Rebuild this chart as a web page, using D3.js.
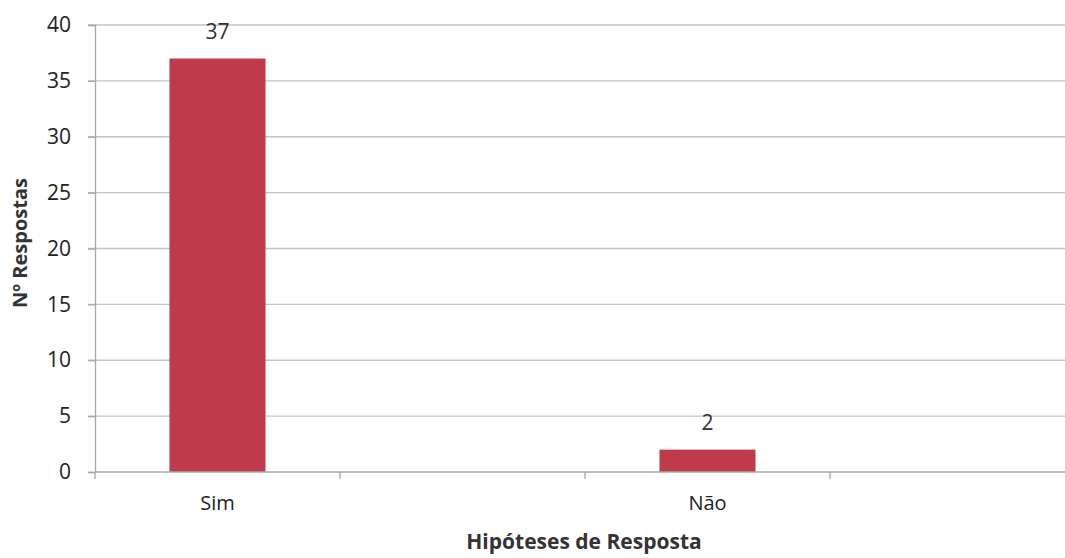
<!DOCTYPE html>
<html><head><meta charset="utf-8">
<script src="https://cdn.jsdelivr.net/npm/d3@7"></script>
<style>body{margin:0;background:#fff}text{font-family:"Open Sans",sans-serif}</style>
</head><body><svg id="c" width="1065" height="558"></svg>
<script>
const categories = ["Sim", "", "Não", " "];
const values = [37, null, 2, null];
const yTicks = [0, 5, 10, 15, 20, 25, 30, 35, 40];
const yTitle = "Nº Respostas";
const xTitle = "Hipóteses de Resposta";

const FONT = "'Open Sans',sans-serif";
const svg = d3.select("#c");
const x = d3.scaleBand().domain(categories).range([95, 1075]).paddingInner(0.608).paddingOuter(0.304);
const y = d3.scaleLinear().domain([0, 40]).range([472, 25]);
const barColor = "#bf3a4a";

// gridlines
svg.append("g").selectAll("line").data(yTicks.filter(d => d > 0)).join("line")
  .attr("x1", 88).attr("x2", 1075).attr("y1", d => y(d)).attr("y2", d => y(d))
  .attr("stroke", "#c4c4c4").attr("stroke-width", 1.3);

// bars
const data = categories.map((c, i) => ({c, v: values[i]})).filter(d => d.v != null);
svg.append("g").selectAll("rect").data(data).join("rect")
  .attr("x", d => x(d.c)).attr("width", x.bandwidth())
  .attr("y", d => y(d.v)).attr("height", d => y(0) - y(d.v))
  .attr("fill", barColor);

// value labels
svg.append("g").selectAll("text").data(data).join("text")
  .attr("x", d => x(d.c) + x.bandwidth() / 2).attr("y", d => y(d.v) - 20)
  .attr("text-anchor", "middle").attr("font-size", 21).attr("fill", "#333")
  .text(d => d.v);

// y axis
const yAxis = svg.append("g").attr("transform", "translate(95,0)")
  .call(d3.axisLeft(y).tickValues(yTicks).tickSize(7).tickPadding(17));
yAxis.select(".domain").attr("stroke", "#a8a8a8").attr("stroke-width", 1.3);
yAxis.selectAll(".tick line").attr("stroke", "#a8a8a8").attr("stroke-width", 1.3);
yAxis.selectAll(".tick text").attr("font-size", 21).attr("fill", "#222").style("font-family", FONT);

// x axis
const xAxis = svg.append("g").attr("transform", "translate(0,472)")
  .call(d3.axisBottom(x).tickSize(0).tickPadding(24));
xAxis.select(".domain").remove();
svg.append("line").attr("x1", 95).attr("x2", 1075).attr("y1", 472).attr("y2", 472)
  .attr("stroke", "#a8a8a8").attr("stroke-width", 1.3);
const boundaries = categories.map(c => x(c) - x.step() * x.paddingInner() / 2);
svg.append("g").selectAll("line").data(boundaries).join("line")
  .attr("x1", d => d).attr("x2", d => d).attr("y1", 472).attr("y2", 479)
  .attr("stroke", "#a8a8a8").attr("stroke-width", 1.3);
xAxis.selectAll(".tick text").attr("font-size", 20).attr("fill", "#222").style("font-family", FONT);

// titles
svg.append("text").attr("x", 584).attr("y", 549).attr("text-anchor", "middle")
  .attr("font-size", 21).attr("font-weight", "bold").attr("fill", "#333").text(xTitle);
svg.append("text").attr("transform", "translate(27,243) rotate(-90)").attr("text-anchor", "middle")
  .attr("font-size", 20).attr("font-weight", "bold").attr("fill", "#333").text(yTitle);
</script></body></html>
